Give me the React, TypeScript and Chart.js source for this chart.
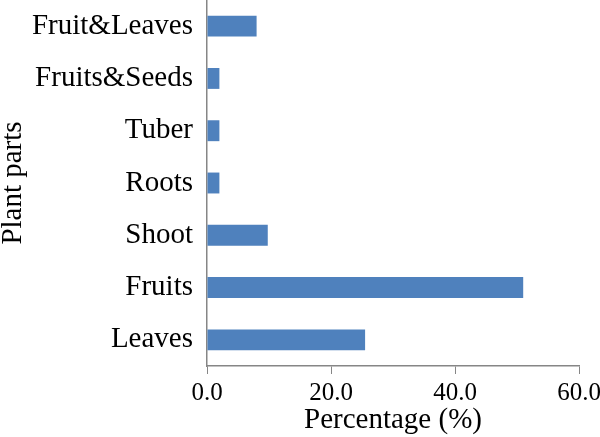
import React, { useEffect, useRef } from "react";
import { Chart, registerables } from "chart.js";

Chart.register(...registerables);

const categories = ["Fruit&Leaves", "Fruits&Seeds", "Tuber", "Roots", "Shoot", "Fruits", "Leaves"];
const percentages = [8.0, 2.0, 2.0, 2.0, 9.8, 51.0, 25.5];
const xTicks = [0, 20, 40, 60];

const FONT = "'Liberation Serif', 'Times New Roman', serif";
const AXIS_GRAY = "#868686";

export default function App() {
  const ref = useRef<HTMLCanvasElement | null>(null);

  useEffect(() => {
    document.body.style.margin = "0";
    const canvas = ref.current;
    if (!canvas) return;
    const chart = new Chart(canvas, {
      type: "bar",
      data: {
        labels: categories,
        datasets: [
          {
            data: percentages,
            backgroundColor: "#4F81BD",
            borderWidth: 0,
            barPercentage: 0.4,
            categoryPercentage: 1,
          },
        ],
      },
      options: {
        indexAxis: "y",
        animation: false,
        responsive: false,
        maintainAspectRatio: false,
        layout: { padding: { top: 0, right: 21, bottom: 0, left: 0 } },
        plugins: { legend: { display: false }, tooltip: { enabled: false } },
        scales: {
          x: {
            type: "linear",
            min: 0,
            max: 60,
            afterBuildTicks: (scale: any) => {
              scale.ticks = xTicks.map((v) => ({ value: v }));
            },
            afterFit: (scale: any) => {
              scale.height = 71;
              scale.paddingLeft = 0;
              scale.paddingRight = 0;
            },
            ticks: {
              color: "#000",
              font: { family: FONT, size: 25 },
              padding: 4,
              maxRotation: 0,
              callback: (v: any) => Number(v).toFixed(1),
            },
            grid: {
              display: true,
              drawOnChartArea: false,
              drawTicks: true,
              tickLength: 8,
              color: AXIS_GRAY,
              lineWidth: 1,
            },
            border: { display: true, color: AXIS_GRAY, width: 1.5 },
            title: {
              display: true,
              text: "Percentage (%)",
              color: "#000",
              font: { family: FONT, size: 29, lineHeight: 1 },
              padding: { top: 0, bottom: 2 },
            },
          },
          y: {
            type: "category",
            afterFit: (scale: any) => {
              scale.width = 207;
              scale.paddingTop = 0;
              scale.paddingBottom = 0;
            },
            ticks: {
              color: "#000",
              font: { family: FONT, size: 29 },
              padding: 14,
            },
            grid: { display: false, drawTicks: false },
            border: { display: true, color: AXIS_GRAY, width: 1.5 },
            title: {
              display: true,
              text: "Plant parts",
              color: "#000",
              font: { family: FONT, size: 29, lineHeight: 0.9 },
              padding: { top: 0, bottom: 0 },
            },
          },
        },
      },
    });
    return () => chart.destroy();
  }, []);

  return (
    <div style={{ width: 600, height: 437 }}>
      <canvas ref={ref} width={600} height={437} style={{ display: "block" }} />
    </div>
  );
}
